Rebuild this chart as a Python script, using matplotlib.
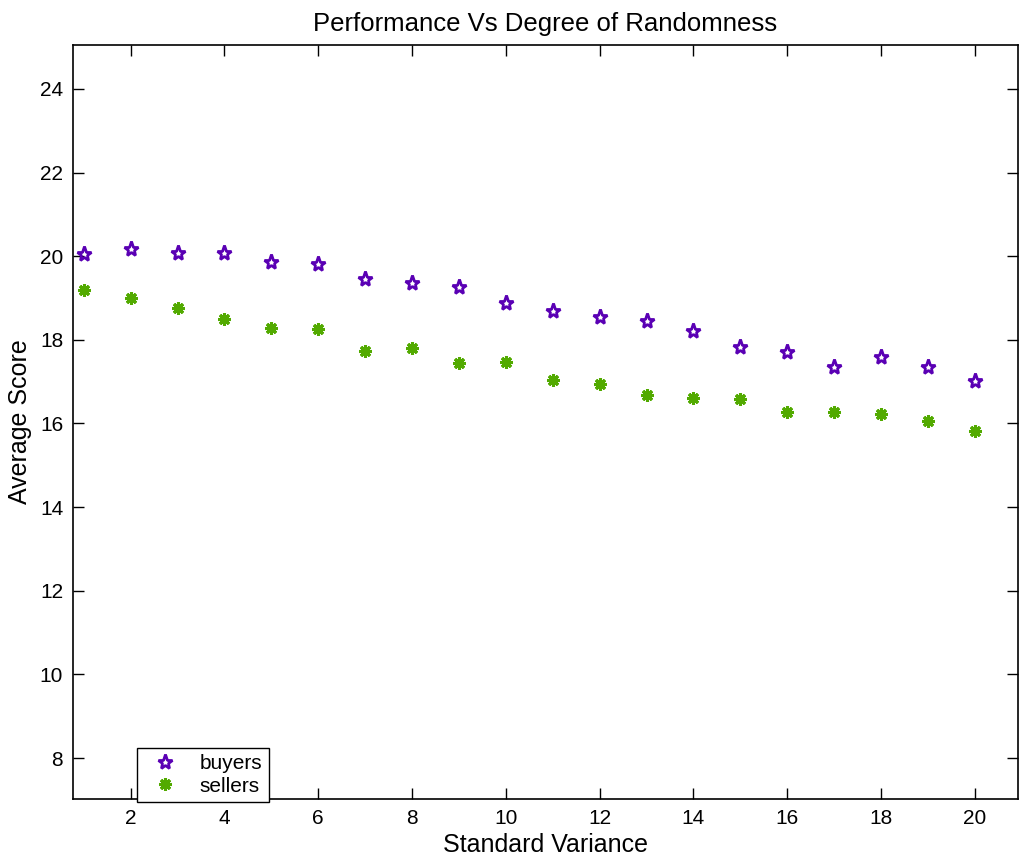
import numpy as np
import matplotlib
matplotlib.use("Agg")
from matplotlib import pyplot as plt

plt.rcParams['font.family'] = ['Liberation Sans', 'DejaVu Sans']

# average score per standard variance setting
variance = list(range(1, 21))
buyers = [20.05, 20.17, 20.08, 20.08, 19.87, 19.81, 19.45, 19.36, 19.27, 18.89,
          18.68, 18.55, 18.44, 18.20, 17.84, 17.71, 17.34, 17.58, 17.36, 17.02]
sellers = [19.19, 19.00, 18.76, 18.51, 18.29, 18.26, 17.73, 17.81, 17.45, 17.48,
           17.03, 16.94, 16.68, 16.61, 16.59, 16.27, 16.27, 16.23, 16.06, 15.81]

fig = plt.figure(figsize=(10.19, 8.61), dpi=100)
ax = fig.add_axes([0.0716, 0.072, 0.9274, 0.8757])

ax.plot(variance, buyers, linestyle='none', marker='*', ms=11,
        mfc='none', mec='#5a00b4', mew=2.0, label='buyers')
ax.plot(variance, sellers, linestyle='none', marker=(8, 2, 0), ms=9,
        mec='#52aa00', mew=2.2, label='sellers')

ax.set_xlim(0.77, 20.92)
ax.set_ylim(7.02, 25.05)
ax.set_xticks(np.arange(2, 21, 2))
ax.set_yticks(np.arange(8, 25, 2))
ax.tick_params(direction='in', top=True, right=True, length=8, width=1,
               labelsize=15, pad=7)
for s in ax.spines.values():
    s.set_linewidth(1.2)

ax.set_title('Performance Vs Degree of Randomness', fontsize=18.5, pad=10)
ax.set_xlabel('Standard Variance', fontsize=18, labelpad=4)
ax.set_ylabel('Average Score', fontsize=18, labelpad=6)

leg = ax.legend(loc='lower left', bbox_to_anchor=(0.068, -0.004),
                borderaxespad=0, fancybox=False, fontsize=15,
                handletextpad=0.6, handlelength=2.1, borderpad=0.3,
                labelspacing=0.18, framealpha=1)
leg.get_frame().set_edgecolor('black')
leg.get_frame().set_linewidth(1.0)

fig.savefig('out.png', dpi=100)
